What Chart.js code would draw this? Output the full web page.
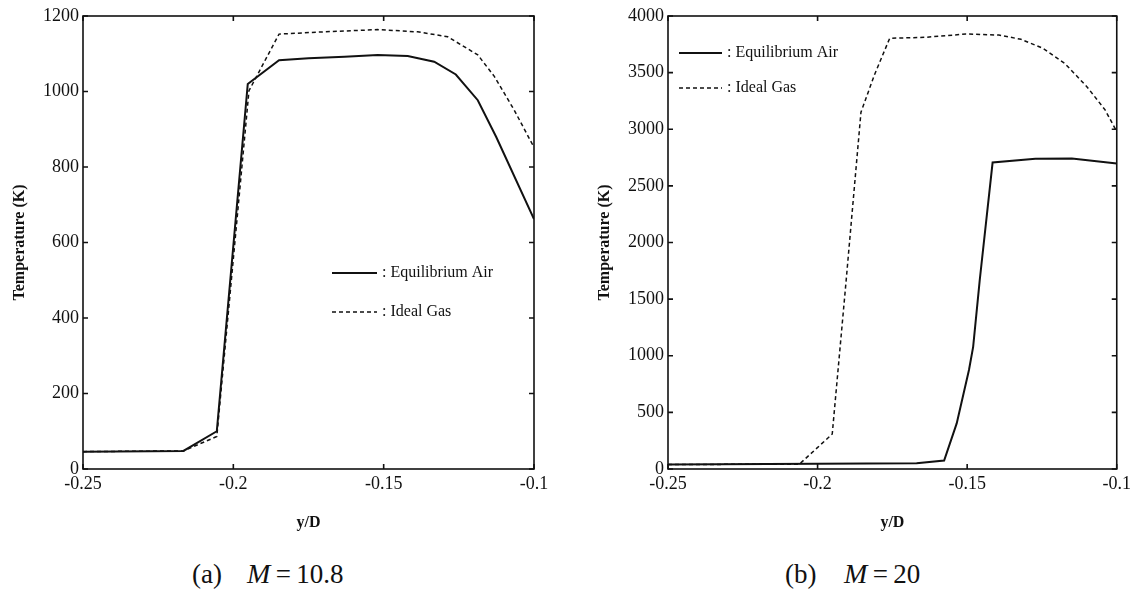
<!DOCTYPE html>
<html>
<head>
<meta charset="utf-8">
<script src="https://cdn.jsdelivr.net/npm/chart.js@4.4.1/dist/chart.umd.min.js"></script>
<style>
  body { margin: 0; background: #fff; width: 1135px; height: 593px; position: relative; overflow: hidden; font-family: "Liberation Serif", serif; color: #111; }
  canvas { position: absolute; top: 0; }
  .cap { position: absolute; top: 560px; font-size: 27px; line-height: 28px; white-space: nowrap; }
  .cap i { font-style: italic; font-size: 28px; }
</style>
</head>
<body>
<canvas id="chartA" width="560" height="540" style="left:0"></canvas>
<canvas id="chartB" width="575" height="540" style="left:560px"></canvas>
<div class="cap" style="left:192px">(a)</div>
<div class="cap" style="left:247px"><i>M</i>&thinsp;=&thinsp;10.8</div>
<div class="cap" style="left:785px">(b)</div>
<div class="cap" style="left:844px"><i>M</i>&thinsp;=&thinsp;20</div>

<script>
// tick labels
const xTicks = [-0.25, -0.2, -0.15, -0.1];
const yTicksA = [0, 200, 400, 600, 800, 1000, 1200];
const yTicksB = [0, 500, 1000, 1500, 2000, 2500, 3000, 3500, 4000];

// (a) M = 10.8
const eqAirA_x = [-0.25, -0.2166, -0.2055, -0.1952, -0.1848, -0.175, -0.163, -0.152, -0.142, -0.1332, -0.126, -0.1187, -0.1126, -0.1];
const eqAirA_y = [46, 48, 100, 1020, 1083, 1088, 1092, 1097, 1094, 1079, 1045, 977, 880, 662];
const idealA_x = [-0.25, -0.2166, -0.2055, -0.1948, -0.1848, -0.17, -0.152, -0.1387, -0.1287, -0.1187, -0.1132, -0.1066, -0.1];
const idealA_y = [46, 48, 86, 1002, 1152, 1158, 1164, 1158, 1145, 1097, 1040, 951, 852];

// (b) M = 20
const eqAirB_x = [-0.25, -0.1669, -0.1577, -0.1535, -0.1494, -0.148, -0.1458, -0.1415, -0.1272, -0.115, -0.1];
const eqAirB_y = [40, 50, 74, 403, 874, 1079, 1668, 2706, 2740, 2742, 2697];
const idealB_x = [-0.25, -0.2061, -0.1951, -0.1905, -0.1855, -0.181, -0.1759, -0.1639, -0.1504, -0.1394, -0.132, -0.1247, -0.1174, -0.11, -0.1039, -0.1];
const idealB_y = [40, 42, 309, 1650, 3150, 3480, 3803, 3812, 3841, 3832, 3794, 3715, 3582, 3376, 3171, 2979];

const seriesNames = [': Equilibrium Air', ': Ideal Gas'];
const ink = '#111';

function pts(xs, ys) {
    return xs.map((x, i) => ({ x: x, y: ys[i] }));
}

// box round the plot, inward ticks on all four sides, and the legend
const framePlugin = {
    id: 'frame',
    afterDatasetsDraw(chart, args, opts) {
        const { ctx, chartArea: { left, right, top, bottom }, scales: { x, y } } = chart;
        ctx.save();
        ctx.strokeStyle = ink;
        ctx.lineWidth = 1.6;
        ctx.strokeRect(left, top, right - left, bottom - top);
        const tl = 5;
        ctx.beginPath();
        x.ticks.forEach(t => {
            const px = x.getPixelForValue(t.value);
            ctx.moveTo(px, bottom); ctx.lineTo(px, bottom - tl);
            ctx.moveTo(px, top); ctx.lineTo(px, top + tl);
        });
        y.ticks.forEach(t => {
            const py = y.getPixelForValue(t.value);
            ctx.moveTo(left, py); ctx.lineTo(left + tl, py);
            ctx.moveTo(right, py); ctx.lineTo(right - tl, py);
        });
        ctx.stroke();

        // legend
        const lg = opts.legend;
        ctx.font = '16px "Liberation Serif", serif';
        ctx.fillStyle = ink;
        ctx.textBaseline = 'middle';
        chart.data.datasets.forEach((ds, i) => {
            const ly = lg.y + i * lg.gap;
            ctx.beginPath();
            ctx.lineWidth = ds.borderWidth;
            ctx.setLineDash(ds.borderDash || []);
            ctx.moveTo(lg.x, ly);
            ctx.lineTo(lg.x + lg.len, ly);
            ctx.stroke();
            ctx.setLineDash([]);
            ctx.fillText(ds.label, lg.x + lg.len + 5, ly);
        });
        ctx.restore();
    }
};

function makeChart(id, eq, ideal, yTicks, yMax, yWidth, padRight, legend) {
    const ctx = document.getElementById(id).getContext('2d');
    return new Chart(ctx, {
        type: 'scatter',
        data: {
            datasets: [{
                label: seriesNames[0],
                data: eq,
                showLine: true,
                borderColor: ink,
                borderWidth: 2,
                pointRadius: 0,
                tension: 0
            }, {
                label: seriesNames[1],
                data: ideal,
                showLine: true,
                borderColor: ink,
                borderWidth: 1.5,
                borderDash: [4, 3],
                pointRadius: 0,
                tension: 0
            }]
        },
        options: {
            responsive: false,
            animation: false,
            layout: { padding: { top: 16, right: padRight, left: 0, bottom: 0 } },
            plugins: {
                legend: { display: false },
                tooltip: { enabled: false },
                frame: { legend: legend }
            },
            scales: {
                x: {
                    type: 'linear',
                    min: -0.25, max: -0.1,
                    afterBuildTicks: s => { s.ticks = xTicks.map(v => ({ value: v })); },
                    afterFit: s => { s.height = 71; },
                    grid: { display: false, drawTicks: false },
                    border: { display: false },
                    ticks: {
                        color: ink, padding: 4, maxRotation: 0, autoSkip: false,
                        font: { family: '"Liberation Serif", serif', size: 18 },
                        callback: v => String(v)
                    },
                    title: {
                        display: true, text: 'y/D', color: ink,
                        font: { family: '"Liberation Serif", serif', size: 16, weight: 'bold' },
                        padding: { top: 0, bottom: 8 }
                    }
                },
                y: {
                    type: 'linear',
                    min: 0, max: yMax,
                    afterBuildTicks: s => { s.ticks = yTicks.map(v => ({ value: v })); },
                    afterFit: s => { s.width = yWidth; },
                    grid: { display: false, drawTicks: false },
                    border: { display: false },
                    ticks: {
                        color: ink, padding: 4,
                        font: { family: '"Liberation Serif", serif', size: 18 },
                        callback: v => String(v)
                    },
                    title: {
                        display: true, text: 'Temperature (K)', color: ink,
                        font: { family: '"Liberation Serif", serif', size: 16, weight: 'bold' },
                        padding: { top: yWidth - 73, bottom: 0 }
                    }
                }
            }
        },
        plugins: [framePlugin]
    });
}

makeChart('chartA', pts(eqAirA_x, eqAirA_y), pts(idealA_x, idealA_y), yTicksA, 1200, 83, 26,
    { x: 332, y: 273, gap: 39, len: 45 });
makeChart('chartB', pts(eqAirB_x, eqAirB_y), pts(idealB_x, idealB_y), yTicksB, 4000, 108, 15,
    { x: 119, y: 53, gap: 35, len: 43 });
</script>
</body>
</html>
